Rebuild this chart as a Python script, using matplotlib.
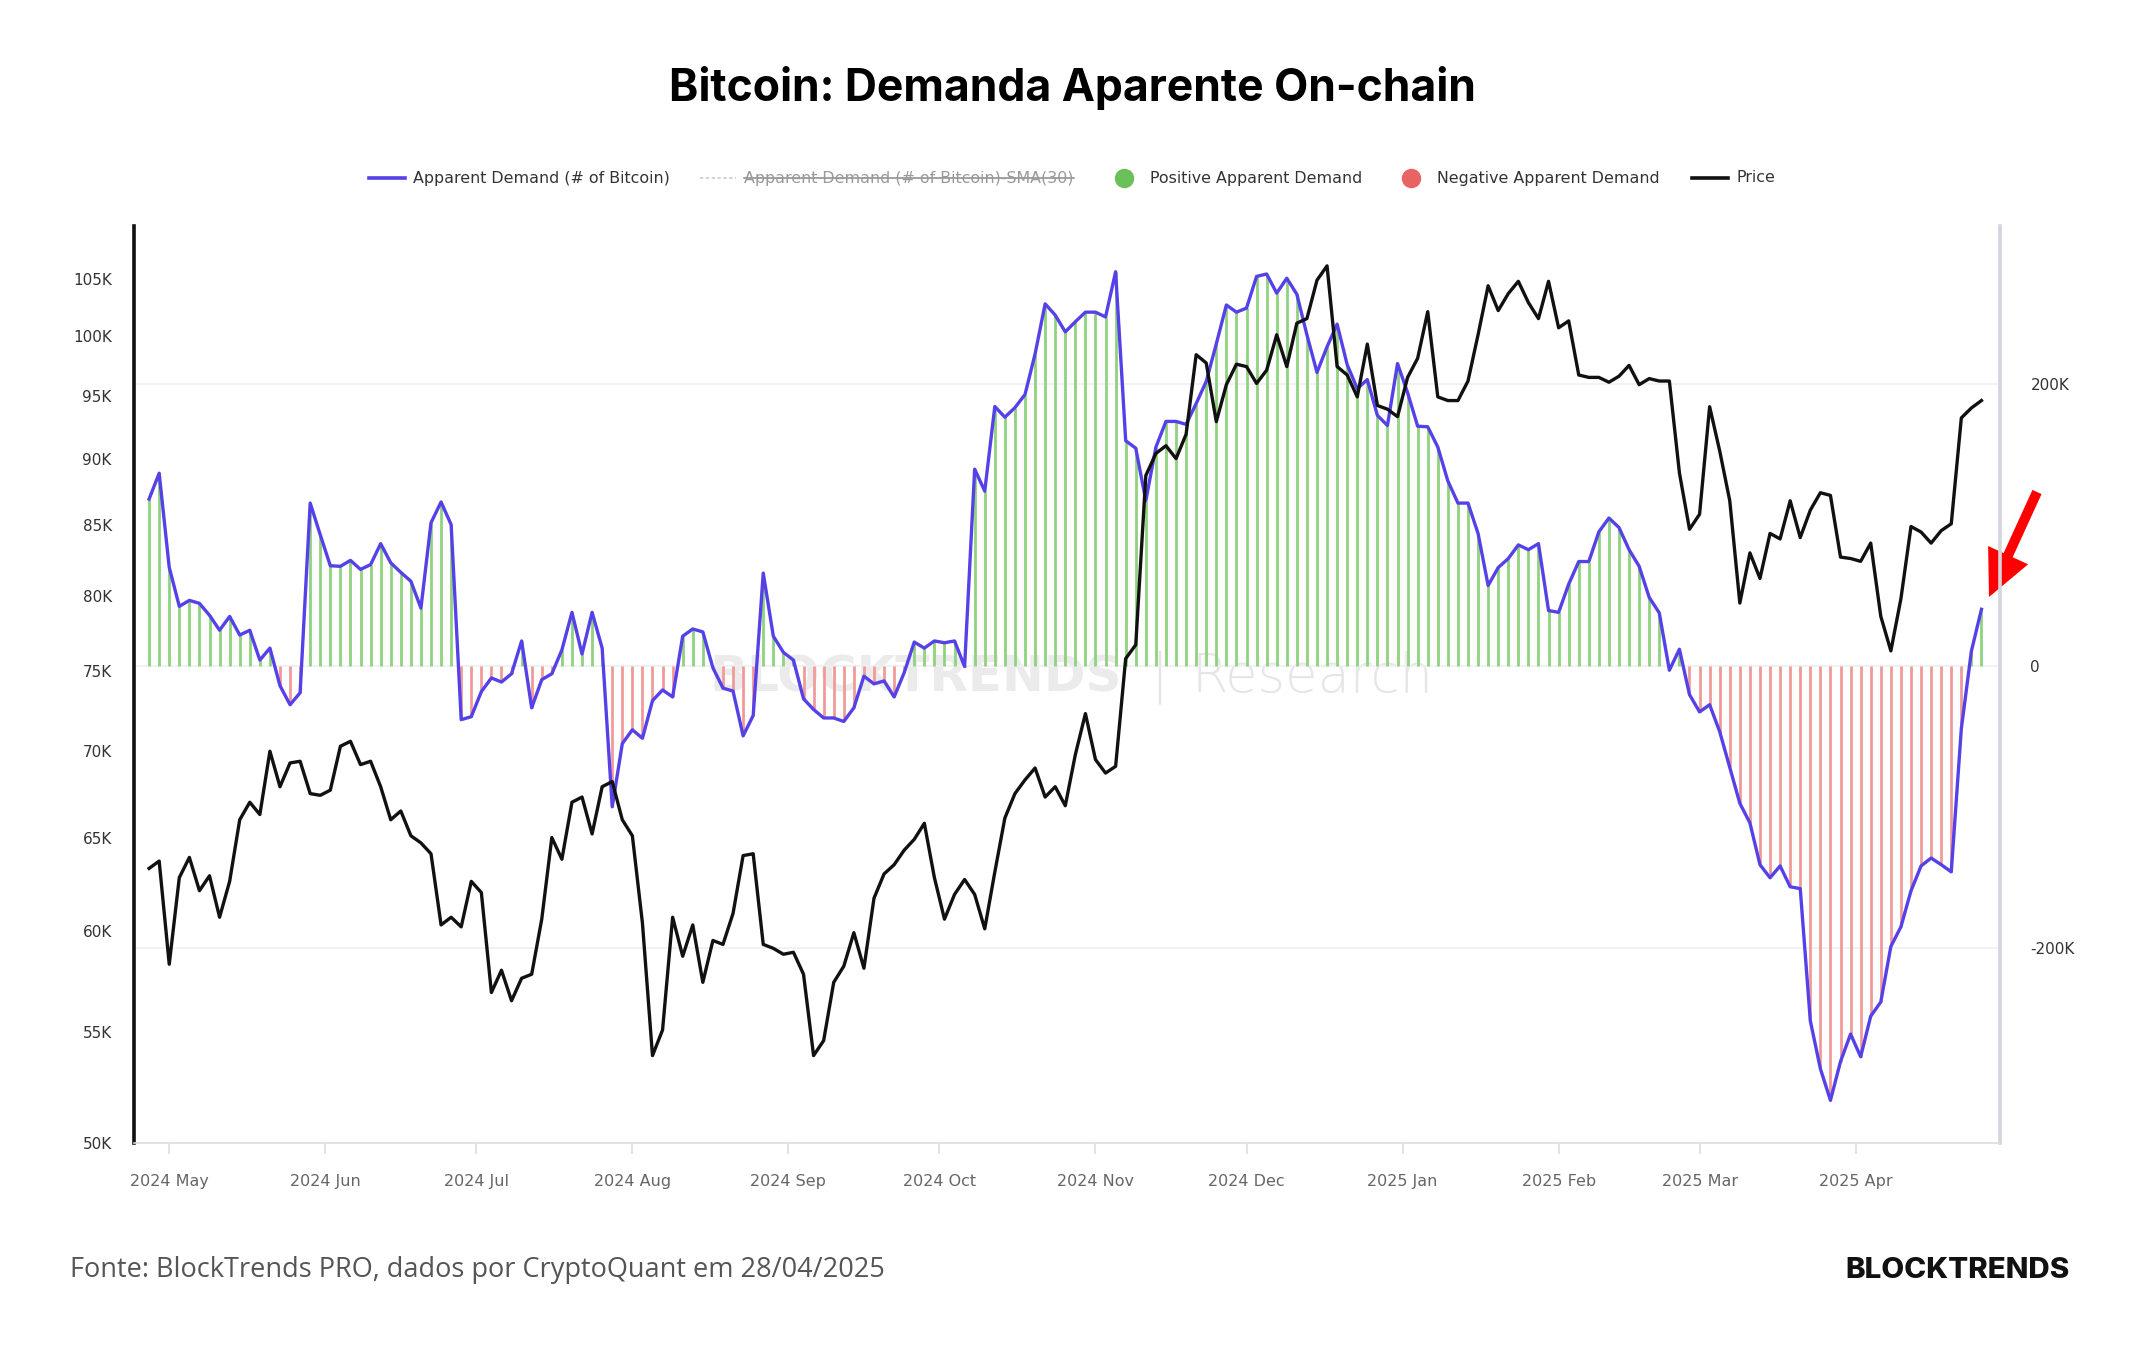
import matplotlib
matplotlib.use('Agg')
import matplotlib.pyplot as plt
import matplotlib.dates as mdates
import numpy as np
import pandas as pd
from matplotlib.lines import Line2D
from matplotlib.patches import FancyArrow
from matplotlib.transforms import IdentityTransform
from matplotlib.ticker import NullLocator

# one reading every two days, 2024-04-27 .. 2025-04-26
dates = pd.date_range('2024-04-27', periods=183, freq='2D')

# apparent demand, thousands of BTC
demand_k = [
    118.6, 136.9, 70, 42.4, 46.6, 44.5, 36, 25.4, 35.2, 22, 25.4, 4.2, 12.7, -14, -27.5, -19,
    115.7, 93.2, 71.2, 70.8, 75, 68.6, 72, 86.9, 73.3, 66.5, 60.2, 41.1, 101.7, 116.5, 100.4,
    -38.1, -36, -18.2, -8.5, -11.4, -5.5, 17.8, -29.7, -9.7, -5.5, 11.4, 38.1, 8.5, 38.1, 12.7,
    -100, -55.1, -45.3, -51.3, -24.6, -17, -22, 21.2, 26.3, 24.2, -1.3, -15.7, -17.8, -49.6, -35.2,
    66, 21.2, 9.7, 4.2, -23.3, -30.9, -36.9, -36.9, -39.4, -29.7, -7.2, -12.7, -10.6, -22, -4.7,
    17, 12.7, 17.8, 16.5, 17.8, -0.4, 139.8, 124.2, 184.3, 176.7, 183.5, 192.8, 221.6, 257.2,
    249.2, 237.3, 244.5, 251.3, 251.3, 247.9, 280, 160, 154.7, 117.4, 155.5, 173.7, 173.7, 171.6,
    186.4, 202.1, 228.8, 256.4, 251.3, 254.2, 276.7, 278.4, 264.8, 275.4, 264, 235.2, 208.5, 226.7,
    242.8, 214, 197, 203.4, 178, 170.8, 214.8, 194.1, 170.3, 169.9, 155.5, 131.4, 115.7, 115.7,
    94.1, 57.2, 69.9, 76.3, 86, 82.6, 86.9, 39.4, 38.1, 58.1, 74.2, 74.2, 95.3, 105.1, 98.3, 82.6,
    70.8, 48.7, 37.7, -3, 11.9, -20.3, -32.6, -27.5, -46.6, -72, -97.5, -111.4, -141.1, -150.4,
    -142, -156.8, -158.1, -252, -286, -308.5, -280.9, -261.4, -277.5, -248.7, -238.6, -199.2,
    -185.2, -159.7, -142, -136.4, -141.1, -146.2, -44.5, 10.6, 40.3,
]

# BTC price, thousands of USD
price_k = [
    63.3, 63.7, 58.3, 62.8, 63.9, 62.1, 62.9, 60.7, 62.6, 66.0, 67.0, 66.3, 70.0, 67.9, 69.3, 69.4,
    67.5, 67.4, 67.7, 70.3, 70.6, 69.2, 69.4, 67.9, 66.0, 66.5, 65.1, 64.7, 64.1, 60.3, 60.7,
    60.2, 62.6, 62.0, 56.9, 58.0, 56.5, 57.6, 57.8, 60.6, 65.0, 63.8, 67.0, 67.3, 65.2, 67.9,
    68.2, 66.0, 65.1, 60.4, 53.9, 55.1, 60.7, 58.7, 60.3, 57.4, 59.5, 59.3, 60.9, 64.0, 64.1,
    59.3, 59.1, 58.8, 58.9, 57.8, 53.9, 54.6, 57.4, 58.2, 59.9, 58.1, 61.7, 63.0, 63.5, 64.3,
    64.9, 65.8, 62.8, 60.6, 61.9, 62.7, 61.9, 60.1, 63.1, 66.1, 67.5, 68.3, 69.0, 67.3,
    67.9, 66.8, 69.8, 72.3, 69.5, 68.7, 69.1, 75.8, 76.7, 88.7, 90.4, 91.0, 90.0, 91.9,
    98.4, 97.7, 92.9, 95.9, 97.6, 97.4, 96.0, 97.1, 100.1, 97.4, 101.1, 101.5, 104.9, 106.2,
    97.4, 96.7, 94.9, 99.3, 94.2, 93.9, 93.3, 96.5, 98.1, 102.1, 94.9, 94.6, 94.6, 96.2,
    100.1, 104.4, 102.2, 103.7, 104.8, 102.9, 101.5, 104.8, 100.7, 101.3, 96.7, 96.5, 96.5, 96.1, 96.6, 97.5,
    95.9, 96.4, 96.2, 96.2, 88.9, 84.7, 85.8, 94.1, 90.6, 86.8, 79.5, 83.0, 81.2, 84.4,
    84.0, 86.8, 84.1, 86.1, 87.4, 87.2, 82.7, 82.6, 82.4, 83.7, 78.6, 76.3,
    79.8, 84.9, 84.5, 83.7, 84.6, 85.1, 93.2, 94.0, 94.6,
]

price_ticks = [50, 55, 60, 65, 70, 75, 80, 85, 90, 95, 100, 105]
demand_ticks = [-200, 0, 200]

demand = np.array(demand_k) * 1000
price = np.array(price_k) * 1000

fig = plt.figure(figsize=(21.44, 13.5), dpi=100)
ax = fig.add_axes([0.0625, 0.1533, 0.8703, 0.6793])
ax2 = ax.twinx()
ax.set_zorder(ax2.get_zorder() + 1)
ax.patch.set_visible(False)

# apparent demand (right axis)
pos = demand >= 0
ax2.vlines(dates[pos], 0, demand[pos], color='#8fd27f', lw=2)
ax2.vlines(dates[~pos], 0, demand[~pos], color='#f29a9a', lw=2)
ax2.plot(dates, demand, color='#5541e8', lw=2.4, solid_joinstyle='round')
ax2.set_ylim(-338.8e3, 312.5e3)
ax2.set_yticks([t * 1000 for t in demand_ticks],
               labels=[f'{t}K' if t else '0' for t in demand_ticks])
ax2.grid(axis='y', color='#f0f0f0', lw=1.2)
ax2.tick_params(axis='y', length=0, pad=22, labelsize=11, labelcolor='#333333')
for s in ax2.spines.values():
    s.set_visible(False)

# watermark
ax2.text(916 / 2144, 0.4985, 'BLOCKTRENDS', transform=fig.transFigure, ha='center', va='center',
         fontsize=36, fontweight='bold', color='#ebebeb', zorder=0)
ax2.text(1159 / 2144, 0.4985, '|', transform=fig.transFigure, ha='center', va='center',
         fontsize=38, fontweight='light', color='#e4e4e4', zorder=0)
ax2.text(1312 / 2144, 0.4985, 'Research', transform=fig.transFigure, ha='center', va='center',
         fontsize=38, fontweight='light', color='#e6e6e6', zorder=0)

# price (left axis, log)
ax.plot(dates, price, color='#111111', lw=2.4, solid_joinstyle='round')
ax.set_yscale('log')
ax.set_ylim(50000, 109900)
ax.set_yticks([t * 1000 for t in price_ticks], labels=[f'{t}K' for t in price_ticks])
ax.yaxis.set_minor_locator(NullLocator())
ax.tick_params(axis='y', length=0, pad=16, labelsize=11, labelcolor='#333333')

ax.set_xlim(pd.Timestamp('2024-04-24'), pd.Timestamp('2025-04-29 16:00'))
ax.xaxis.set_major_locator(mdates.MonthLocator())
ax.xaxis.set_major_formatter(mdates.DateFormatter('%Y %b'))
ax.tick_params(axis='x', length=8, width=1.2, color='#dcdce4', pad=14,
               labelsize=11.5, labelcolor='#666666')

ax.spines['top'].set_visible(False)
ax.spines['left'].set_color('#111111')
ax.spines['left'].set_linewidth(2.6)
ax.spines['right'].set_color('#d4d4de')
ax.spines['right'].set_linewidth(2.6)
ax.spines['bottom'].set_color('#dcdce4')
ax.spines['bottom'].set_linewidth(1.2)

# title
fig.text(0.5, 0.935, 'Bitcoin: Demanda Aparente On-chain', ha='center', va='center',
         fontsize=32, fontweight='bold', family='Inter', color='#000000')

# legend row
ly = 1 - 178 / 1350
lf = 11.4
fig.add_artist(Line2D([369 / 2144, 405 / 2144], [ly, ly], color='#5541e8', lw=2.6))
fig.text(413 / 2144, ly, 'Apparent Demand (# of Bitcoin)', va='center', fontsize=lf, color='#333333')
fig.add_artist(Line2D([700 / 2144, 736 / 2144], [ly, ly], color='#cccccc', lw=1.2, ls=(0, (2, 1.5))))
sma = fig.text(744 / 2144, ly, 'Apparent Demand (# of Bitcoin)-SMA(30)', va='center',
               fontsize=lf, color='#999999')
fig.add_artist(Line2D([1124 / 2144], [ly], marker='o', ms=13, color='#6cc05a', lw=0))
fig.text(1150 / 2144, ly, 'Positive Apparent Demand', va='center', fontsize=lf, color='#333333')
fig.add_artist(Line2D([1411 / 2144], [ly], marker='o', ms=13, color='#e86464', lw=0))
fig.text(1437 / 2144, ly, 'Negative Apparent Demand', va='center', fontsize=lf, color='#333333')
fig.add_artist(Line2D([1692 / 2144, 1728 / 2144], [ly, ly], color='#111111', lw=2.6))
fig.text(1736 / 2144, ly, 'Price', va='center', fontsize=lf, color='#333333')

# strike through the hidden series
fig.canvas.draw()
bb = sma.get_window_extent().transformed(fig.transFigure.inverted())
fig.add_artist(Line2D([bb.x0, bb.x1], [ly, ly], color='#888888', lw=1.1))

# red arrow (figure pixels)
fig.add_artist(FancyArrow(2037, 1350 - 492, -48, -105, width=10, head_width=44, head_length=46,
                          length_includes_head=True, color='#ff0000', lw=0,
                          transform=IdentityTransform()))

# footer
fig.text(70 / 2144, 1 - 1270 / 1350, 'Fonte: BlockTrends PRO, dados por CryptoQuant em 28/04/2025',
         va='center', fontsize=19.5, color='#555555', family='Open Sans')
fig.text(2070 / 2144, 1 - 1270 / 1350, 'BLOCKTRENDS', ha='right', va='center',
         fontsize=21.3, fontweight='heavy', family='Inter', color='#111111')

fig.savefig('out.png', dpi=100)
